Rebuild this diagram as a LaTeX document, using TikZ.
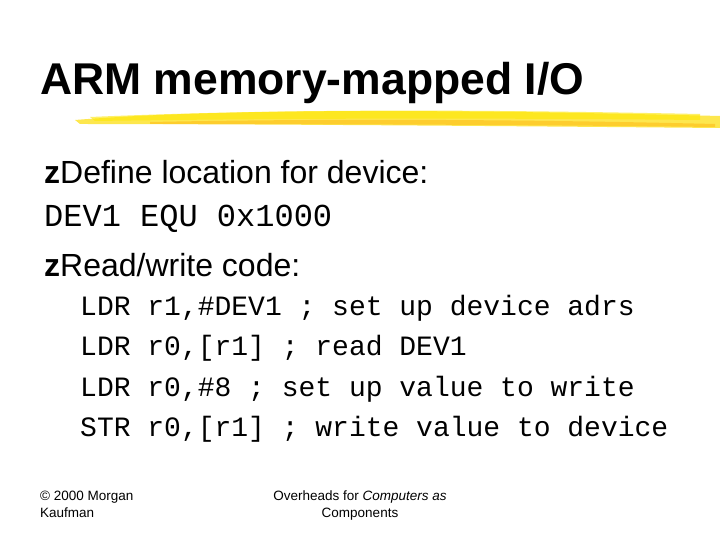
\documentclass[tikz,border=0pt]{standalone}
\usepackage{fontspec}
\setmainfont{Liberation Sans}
\setmonofont{Liberation Mono}
\begin{document}
\begin{tikzpicture}[x=1pt,y=-1pt,
  txt/.style={anchor=base west,inner sep=0pt},
  code/.style={anchor=base west,inner sep=0pt,font=\fontsize{28}{30}\ttfamily},
  foot/.style={inner sep=0pt,font=\fontsize{13.5}{17}\selectfont,align=left}]
\useasboundingbox (0,0) rectangle (720,540);
\fill[white] (0,0) rectangle (720,540);
% brush stroke
\fill[yellow!80!orange,opacity=0.7] (75,120) .. controls (200,110) and (400,108) .. (720,116) -- (720,128) .. controls (500,126) and (250,124) .. (80,124) -- cycle;
\fill[yellow!90!orange,opacity=0.6] (90,117) .. controls (300,108) and (500,110) .. (700,114) -- (700,120) .. controls (500,118) and (300,118) .. (95,121) -- cycle;
\fill[orange!70!yellow,opacity=0.4] (150,122) .. controls (350,118) and (550,120) .. (715,124) -- (715,127) .. controls (550,125) and (350,124) .. (150,124) -- cycle;
\node[txt,font=\fontsize{44.5}{48}\bfseries] (title) at (40,95) {ARM memory-mapped I/O};
\node[txt,font=\fontsize{32}{36}\selectfont] (b1) at (44,184) {\textbf{z}Define location for device:};
\node[txt,font=\fontsize{32}{34}\ttfamily] (c0) at (44,226) {DEV1 EQU 0x1000};
\node[txt,font=\fontsize{32}{36}\selectfont] (b2) at (44,276) {\textbf{z}Read/write code:};
\node[code] (c1) at (80,315) {LDR r1,\#DEV1 ; set up device adrs};
\node[code] (c2) at (80,355) {LDR r0,[r1] ; read DEV1};
\node[code] (c3) at (80,396) {LDR r0,\#8 ; set up value to write};
\node[code] (c4) at (80,436) {STR r0,[r1] ; write value to device};
\node[foot,anchor=north west] (f1) at (40,491) {© 2000 Morgan\\Kaufman};
\node[foot,anchor=north,align=center] (f2) at (360,491) {Overheads for \textit{Computers as}\\Components};
\end{tikzpicture}
\end{document}
